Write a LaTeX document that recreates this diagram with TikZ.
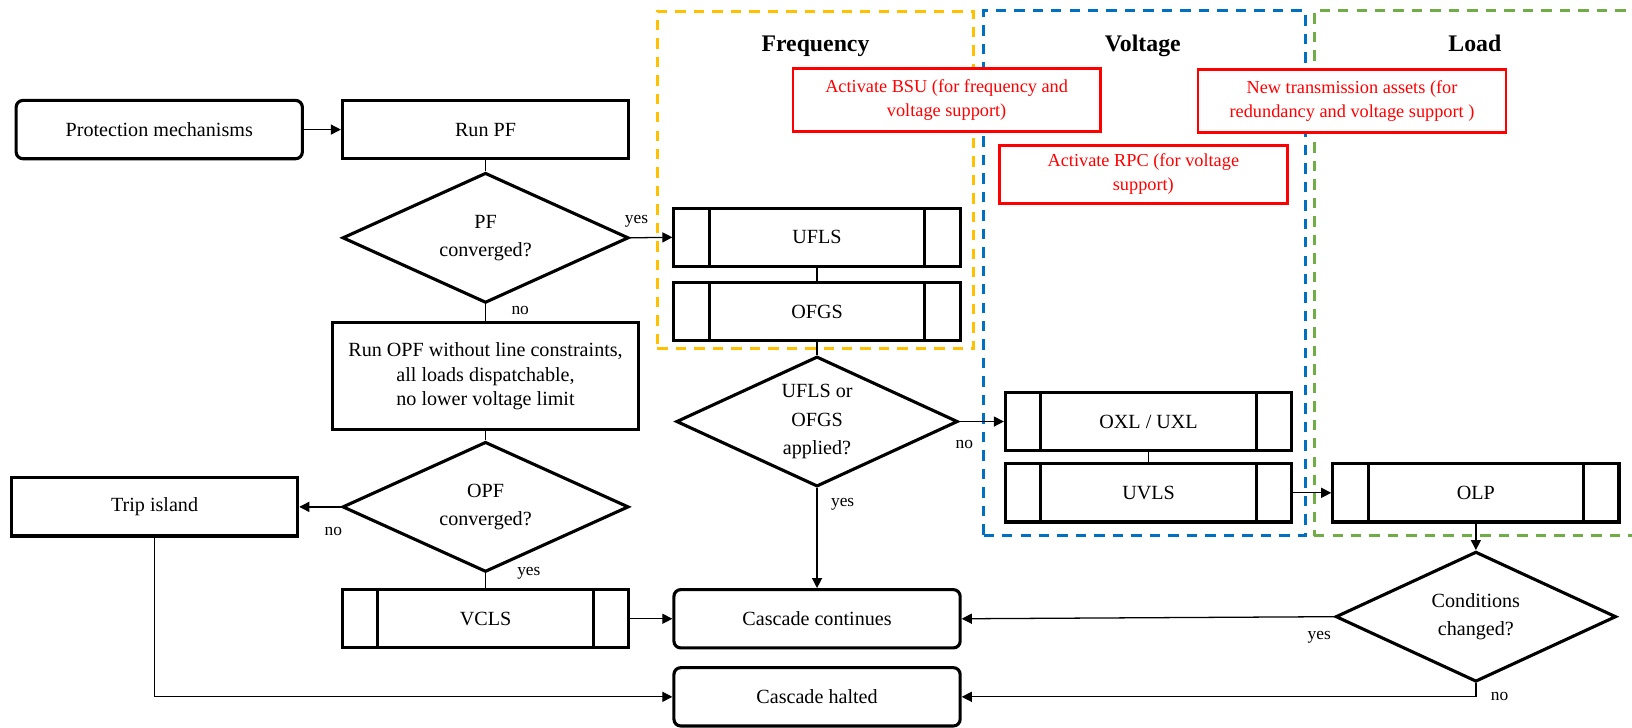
\documentclass[tikz,border=0pt]{standalone}
\usepackage{fontspec}
\setmainfont{Liberation Serif}
\usepackage{tikz}
\usetikzlibrary{
    arrows.meta,
    positioning,
    shapes.geometric
}
\definecolor{freqyellow}{RGB}{255,192,0}
\definecolor{voltblue}{RGB}{0,112,192}
\definecolor{loadgreen}{RGB}{112,173,71}
\definecolor{actred}{RGB}{255,0,0}
\tikzset{
  block/.style    = {draw, line width=1.7pt, minimum width=5.5cm,
                     minimum height=1.12cm, align=center,
                     font=\fontsize{11}{13.5}\selectfont},
  rblock/.style   = {block, rounded corners=0.13cm},
  proc/.style     = {block, path picture={
                       \draw[line width=1.7pt]
                         ([xshift=0.68cm]path picture bounding box.north west) --
                         ([xshift=0.68cm]path picture bounding box.south west)
                         ([xshift=-0.68cm]path picture bounding box.north east) --
                         ([xshift=-0.68cm]path picture bounding box.south east);}},
  decision/.style = {draw, diamond, aspect=2.2, line width=1.7pt,
                     minimum width=5.5cm, minimum height=2.5cm, inner sep=0pt,
                     align=center, font=\fontsize{11}{15.5}\selectfont},
  region/.style   = {draw=#1, dash pattern=on 5.7pt off 4.4pt, line width=1.6pt},
  action/.style   = {draw=actred, fill=white, line width=1.5pt, text=actred,
                     align=center, font=\fontsize{10}{13}\selectfont}
}

\begin{document}
\begin{tikzpicture}[
    arr/.style={-{Triangle[length=5.5pt,width=5.5pt]}, line width=0.7pt},
    con/.style={line width=0.7pt},
    lbl/.style={font=\fontsize{9.5}{11}\selectfont},
    ttl/.style={anchor=base, font=\fontsize{13}{15}\selectfont\bfseries}
  ]
    \clip (0,0) rectangle (31.36,-13.98);
    % Regions
    \node[region=freqyellow, minimum width=6.08cm, minimum height=6.49cm] (freq) at (15.67,-3.46) {};
    \node[region=voltblue, minimum width=6.18cm, minimum height=10.08cm] (volt) at (21.99,-5.25) {};
    \node[region=loadgreen, minimum width=7cm, minimum height=10.09cm] (load) at (28.75,-5.25) {};
    \node[ttl] (freqt) at (15.67,-0.99) {Frequency};
    \node[ttl] (voltt) at (21.96,-0.99) {Voltage};
    \node[ttl] (loadt) at (28.34,-0.99) {Load};

    % Measures
    \node[action, minimum width=5.9cm, minimum height=1.21cm] (bsu) at (18.19,-1.92)
      {Activate BSU (for frequency and\\voltage support)};
    \node[action, minimum width=5.54cm, minimum height=1.11cm] (rpc) at (21.97,-3.35)
      {Activate RPC (for voltage\\support)};
    \node[action, minimum width=5.92cm, minimum height=1.2cm] (newta) at (25.98,-1.94)
      {New transmission assets (for\\redundancy and voltage support )};

    % Main flow
    \node[rblock] (prot)   at (3.06,-2.49)  {Protection mechanisms};
    \node[block]  (runpf)  at (9.33,-2.49)  {Run PF};
    \node[decision] (pfdec) at (9.33,-4.57) {PF\\converged?};
    \node[block, minimum width=5.88cm, minimum height=2.06cm] (opf) at (9.33,-7.23)
      {Run OPF without line constraints,\\all loads dispatchable,\\no lower voltage limit};
    \node[decision] (opfdec) at (9.33,-9.74) {OPF\\converged?};
    \node[block]  (trip)   at (2.97,-9.74)  {Trip island};
    \node[proc]   (vcls)   at (9.33,-11.89) {VCLS};
    \node[rblock] (cont)   at (15.70,-11.89) {Cascade continues};
    \node[rblock] (halt)   at (15.70,-13.39) {Cascade halted};
    % Frequency / voltage / load schemes
    \node[proc]   (ufls)   at (15.70,-4.56) {UFLS};
    \node[proc]   (ofgs)   at (15.70,-5.99) {OFGS};
    \node[decision, minimum width=5.41cm] (ufdec) at (15.70,-8.10) {UFLS or\\OFGS\\applied?};
    \node[proc]   (oxl)    at (22.07,-8.10) {OXL / UXL};
    \node[proc]   (uvls)   at (22.07,-9.47) {UVLS};
    \node[proc]   (olp)    at (28.36,-9.47) {OLP};
    \node[decision, minimum width=5.39cm] (cond) at (28.36,-11.85) {Conditions\\changed?};

    \draw[arr](prot)--(runpf);
    \draw[con](runpf)--(pfdec);
    \draw[arr](pfdec.east) --node[lbl, pos=0.15, above=2pt]{yes}(ufls.west);
    \draw[con](pfdec.south)--node[lbl, pos=0.37, right=0.37cm]{no}(opf.north);
    \draw[con](opf)--(opfdec);
    \draw[arr](opfdec.west)--node[lbl, pos=0.18, below=7.5pt]{no}(trip.east);
    \draw[con](opfdec.south)--node[lbl, pos=0, right=0.48cm]{yes}(vcls.north);
    \draw[arr](vcls)--(cont);
    \draw[arr](trip.south) |- (halt.west);
    \draw[con](ufls)--(ofgs); \draw[con](ofgs)--(ufdec);
    \draw[arr](ufdec.south)--node[lbl, pos=0.16, right=0.14cm]{yes}(cont.north);
    \draw[arr](ufdec.east)--node[lbl, pos=0.11, below=6.5pt]{no}(oxl.west);
    \draw[con](oxl)--(uvls);
    \draw[arr](uvls)--(olp);
    \draw[arr](olp)--(cond);
    \draw[arr](cond.west)--node[lbl, pos=0.04, below=4.3pt]{yes}(cont.east);
    \draw[arr](cond.south) |- node[lbl, pos=0.5, right=0.16cm]{no}(halt.east);
  \end{tikzpicture}
\end{document}
